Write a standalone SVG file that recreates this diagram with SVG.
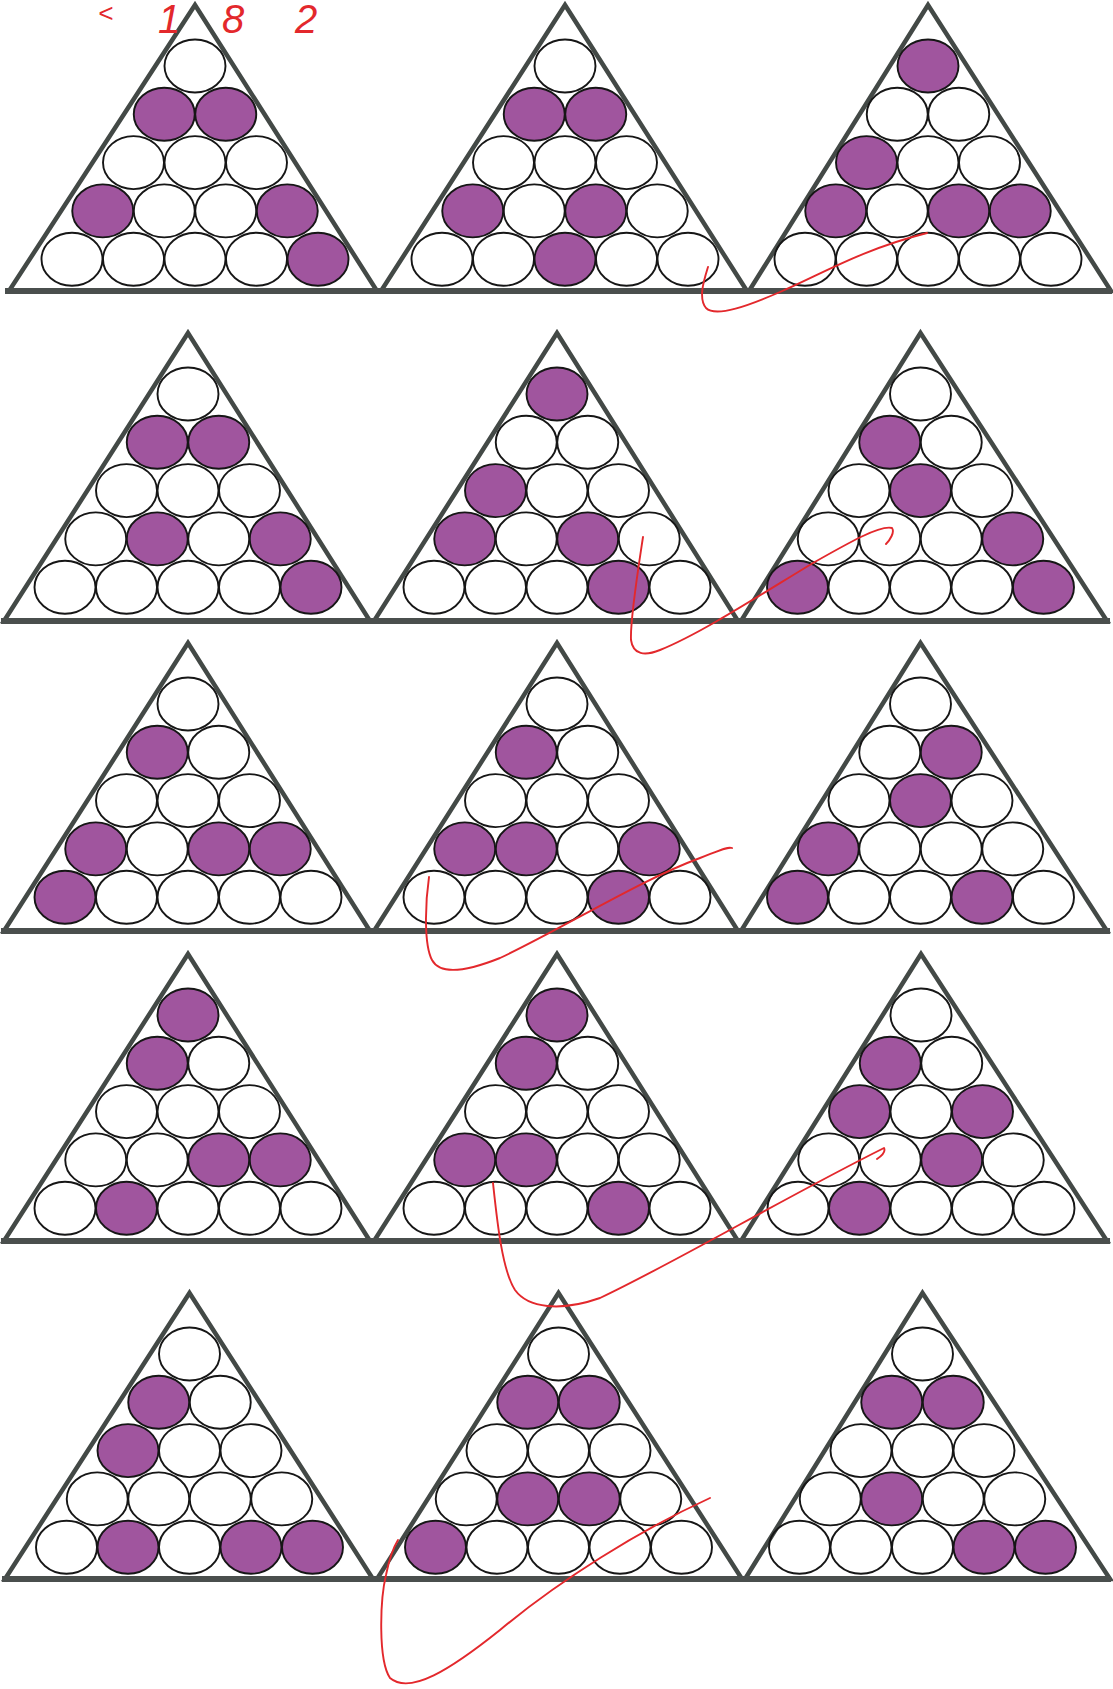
<svg xmlns="http://www.w3.org/2000/svg" xmlns:xlink="http://www.w3.org/1999/xlink" width="1113" height="1689" viewBox="0 0 1113 1689">
<style>
.tri{fill:none;stroke:#434946;stroke-width:4.5;stroke-linejoin:miter;stroke-miterlimit:12}
.base{stroke:#4a4f4d;stroke-width:6;stroke-linecap:butt}
.c{fill:none;stroke:#161616;stroke-width:1.9}
.f{fill:#a0559e}
.red{fill:none;stroke:#e3282c;stroke-width:1.9;stroke-linecap:round;stroke-linejoin:round}
.hw{fill:#e3282c;font-family:"Liberation Sans",Arial,sans-serif;font-style:italic}
</style>
<defs>
<ellipse id="dot" rx="30.5" ry="26.5"/>
<g id="grid">
<ellipse class="c" cx="0" cy="61" rx="30.5" ry="26.5"/>
<ellipse class="c" cx="-30.75" cy="109.3" rx="30.5" ry="26.5"/>
<ellipse class="c" cx="30.75" cy="109.3" rx="30.5" ry="26.5"/>
<ellipse class="c" cx="-61.5" cy="157.6" rx="30.5" ry="26.5"/>
<ellipse class="c" cx="0" cy="157.6" rx="30.5" ry="26.5"/>
<ellipse class="c" cx="61.5" cy="157.6" rx="30.5" ry="26.5"/>
<ellipse class="c" cx="-92.25" cy="205.9" rx="30.5" ry="26.5"/>
<ellipse class="c" cx="-30.75" cy="205.9" rx="30.5" ry="26.5"/>
<ellipse class="c" cx="30.75" cy="205.9" rx="30.5" ry="26.5"/>
<ellipse class="c" cx="92.25" cy="205.9" rx="30.5" ry="26.5"/>
<ellipse class="c" cx="-123" cy="254.2" rx="30.5" ry="26.5"/>
<ellipse class="c" cx="-61.5" cy="254.2" rx="30.5" ry="26.5"/>
<ellipse class="c" cx="0" cy="254.2" rx="30.5" ry="26.5"/>
<ellipse class="c" cx="61.5" cy="254.2" rx="30.5" ry="26.5"/>
<ellipse class="c" cx="123" cy="254.2" rx="30.5" ry="26.5"/>
</g>
</defs>
<rect width="1113" height="1689" fill="#ffffff"/>

<!-- Row 1 -->
<g id="t-r1-1" transform="translate(195,5)">
<polygon class="tri" points="0,0 182,286 -186,286"/>
<use href="#dot" class="f" x="-30.75" y="109.3"/><use href="#dot" class="f" x="30.75" y="109.3"/>
<use href="#dot" class="f" x="-92.25" y="205.9"/><use href="#dot" class="f" x="92.25" y="205.9"/>
<use href="#dot" class="f" x="123" y="254.2"/>
<use href="#grid"/>
</g>
<g id="t-r1-2" transform="translate(565,5)">
<polygon class="tri" points="0,0 182,286 -184,286"/>
<use href="#dot" class="f" x="-30.75" y="109.3"/><use href="#dot" class="f" x="30.75" y="109.3"/>
<use href="#dot" class="f" x="-92.25" y="205.9"/><use href="#dot" class="f" x="30.75" y="205.9"/>
<use href="#dot" class="f" x="0" y="254.2"/>
<use href="#grid"/>
</g>
<g id="t-r1-3" transform="translate(928,5)">
<polygon class="tri" points="0,0 183,286 -179,286"/>
<use href="#dot" class="f" x="0" y="61"/>
<use href="#dot" class="f" x="-61.5" y="157.6"/>
<use href="#dot" class="f" x="-92.25" y="205.9"/><use href="#dot" class="f" x="30.75" y="205.9"/><use href="#dot" class="f" x="92.25" y="205.9"/>
<use href="#grid"/>
</g>
<line class="base" x1="5" y1="291" x2="1112" y2="291"/>

<!-- Row 2 -->
<g id="t-r2-1" transform="translate(188,333)">
<polygon class="tri" points="0,0 182,288 -184,288"/>
<use href="#dot" class="f" x="-30.75" y="109.3"/><use href="#dot" class="f" x="30.75" y="109.3"/>
<use href="#dot" class="f" x="-30.75" y="205.9"/><use href="#dot" class="f" x="92.25" y="205.9"/>
<use href="#dot" class="f" x="123" y="254.2"/>
<use href="#grid"/>
</g>
<g id="t-r2-2" transform="translate(557,333)">
<polygon class="tri" points="0,0 181,288 -183,288"/>
<use href="#dot" class="f" x="0" y="61"/>
<use href="#dot" class="f" x="-61.5" y="157.6"/>
<use href="#dot" class="f" x="-92.25" y="205.9"/><use href="#dot" class="f" x="30.75" y="205.9"/>
<use href="#dot" class="f" x="61.5" y="254.2"/>
<use href="#grid"/>
</g>
<g id="t-r2-3" transform="translate(920.5,333)">
<polygon class="tri" points="0,0 186.5,288 -179.5,288"/>
<use href="#dot" class="f" x="-30.75" y="109.3"/>
<use href="#dot" class="f" x="0" y="157.6"/>
<use href="#dot" class="f" x="92.25" y="205.9"/>
<use href="#dot" class="f" x="-123" y="254.2"/><use href="#dot" class="f" x="123" y="254.2"/>
<use href="#grid"/>
</g>
<line class="base" x1="1" y1="621" x2="1110" y2="621"/>

<!-- Row 3 -->
<g id="t-r3-1" transform="translate(188,643)">
<polygon class="tri" points="0,0 182,288 -184,288"/>
<use href="#dot" class="f" x="-30.75" y="109.3"/>
<use href="#dot" class="f" x="-92.25" y="205.9"/><use href="#dot" class="f" x="30.75" y="205.9"/><use href="#dot" class="f" x="92.25" y="205.9"/>
<use href="#dot" class="f" x="-123" y="254.2"/>
<use href="#grid"/>
</g>
<g id="t-r3-2" transform="translate(557,643)">
<polygon class="tri" points="0,0 181,288 -183,288"/>
<use href="#dot" class="f" x="-30.75" y="109.3"/>
<use href="#dot" class="f" x="-92.25" y="205.9"/><use href="#dot" class="f" x="-30.75" y="205.9"/><use href="#dot" class="f" x="92.25" y="205.9"/>
<use href="#dot" class="f" x="61.5" y="254.2"/>
<use href="#grid"/>
</g>
<g id="t-r3-3" transform="translate(920.5,643)">
<polygon class="tri" points="0,0 186.5,288 -179.5,288"/>
<use href="#dot" class="f" x="30.75" y="109.3"/>
<use href="#dot" class="f" x="0" y="157.6"/>
<use href="#dot" class="f" x="-92.25" y="205.9"/>
<use href="#dot" class="f" x="-123" y="254.2"/><use href="#dot" class="f" x="61.5" y="254.2"/>
<use href="#grid"/>
</g>
<line class="base" x1="1" y1="931" x2="1110" y2="931"/>

<!-- Row 4 -->
<g id="t-r4-1" transform="translate(188,954)">
<polygon class="tri" points="0,0 182,287 -184,287"/>
<use href="#dot" class="f" x="0" y="61"/>
<use href="#dot" class="f" x="-30.75" y="109.3"/>
<use href="#dot" class="f" x="30.75" y="205.9"/><use href="#dot" class="f" x="92.25" y="205.9"/>
<use href="#dot" class="f" x="-61.5" y="254.2"/>
<use href="#grid"/>
</g>
<g id="t-r4-2" transform="translate(557,954)">
<polygon class="tri" points="0,0 181,287 -183,287"/>
<use href="#dot" class="f" x="0" y="61"/>
<use href="#dot" class="f" x="-30.75" y="109.3"/>
<use href="#dot" class="f" x="-92.25" y="205.9"/><use href="#dot" class="f" x="-30.75" y="205.9"/>
<use href="#dot" class="f" x="61.5" y="254.2"/>
<use href="#grid"/>
</g>
<g id="t-r4-3" transform="translate(921,954)">
<polygon class="tri" points="0,0 186,287 -180,287"/>
<use href="#dot" class="f" x="-30.75" y="109.3"/>
<use href="#dot" class="f" x="-61.5" y="157.6"/><use href="#dot" class="f" x="61.5" y="157.6"/>
<use href="#dot" class="f" x="30.75" y="205.9"/>
<use href="#dot" class="f" x="-61.5" y="254.2"/>
<use href="#grid"/>
</g>
<line class="base" x1="1" y1="1241" x2="1110" y2="1241"/>

<!-- Row 5 -->
<g id="t-r5-1" transform="translate(189.5,1293)">
<polygon class="tri" points="0,0 183.5,286 -184.5,286"/>
<use href="#dot" class="f" x="-30.75" y="109.3"/>
<use href="#dot" class="f" x="-61.5" y="157.6"/>
<use href="#dot" class="f" x="-61.5" y="254.2"/><use href="#dot" class="f" x="61.5" y="254.2"/><use href="#dot" class="f" x="123" y="254.2"/>
<use href="#grid"/>
</g>
<g id="t-r5-2" transform="translate(558.5,1293)">
<polygon class="tri" points="0,0 183.5,286 -181.5,286"/>
<use href="#dot" class="f" x="-30.75" y="109.3"/><use href="#dot" class="f" x="30.75" y="109.3"/>
<use href="#dot" class="f" x="-30.75" y="205.9"/><use href="#dot" class="f" x="30.75" y="205.9"/>
<use href="#dot" class="f" x="-123" y="254.2"/>
<use href="#grid"/>
</g>
<g id="t-r5-3" transform="translate(922.5,1293)">
<polygon class="tri" points="0,0 187.5,286 -177.5,286"/>
<use href="#dot" class="f" x="-30.75" y="109.3"/><use href="#dot" class="f" x="30.75" y="109.3"/>
<use href="#dot" class="f" x="-30.75" y="205.9"/>
<use href="#dot" class="f" x="61.5" y="254.2"/><use href="#dot" class="f" x="123" y="254.2"/>
<use href="#grid"/>
</g>
<line class="base" x1="2" y1="1579" x2="1111" y2="1579"/>

<!-- red pen marks -->
<g id="connectors">
<path class="red" d="M708,267 C704,280 698,298 706,308 C716,318 750,305 780,292 C820,275 860,250 927,233"/>
<path class="red" d="M643,537 C638,570 630,620 631,640 C633,655 645,656 660,650 C700,634 760,595 813,563 C850,542 880,525 892,528 C895,532 890,540 886,544"/>
<path class="red" d="M429,877 C425,905 424,945 432,960 C440,975 465,972 500,958 C560,930 640,880 700,858 C718,851 728,846 732,848"/>
<path class="red" d="M493,1183 C497,1220 502,1270 515,1290 C528,1308 560,1312 600,1298 C680,1260 780,1200 884,1148 C886,1152 880,1157 877,1159"/>
<path class="red" d="M710,1498 C640,1530 560,1580 500,1630 C450,1670 410,1695 390,1678 C378,1660 380,1600 386,1575 C389,1560 393,1548 398,1540"/>
</g>
<text class="hw" x="98" y="22" font-size="26">&lt;</text>
<text class="hw" font-size="40" y="33"><tspan x="158">1</tspan><tspan x="222">8</tspan><tspan x="295">2</tspan></text>
</svg>
